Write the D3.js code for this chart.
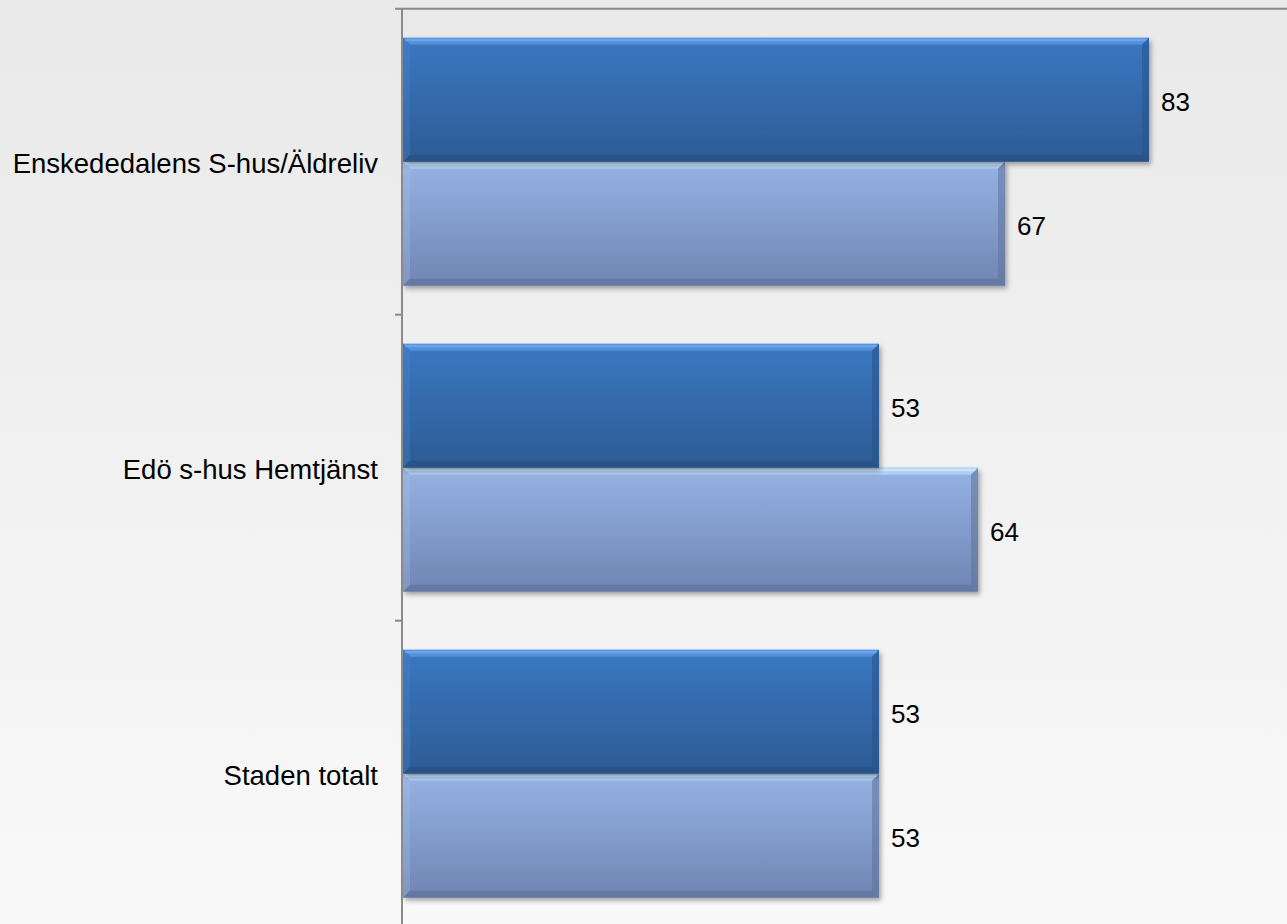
<!DOCTYPE html>
<html>
<head>
<meta charset="utf-8">
<script src="https://cdn.jsdelivr.net/npm/d3@7/dist/d3.min.js"></script>
<style>
  html, body { margin: 0; padding: 0; background: #f0f0f0; }
  svg { display: block; }
  text { font-family: "Liberation Sans", Arial, sans-serif; fill: #000; }
</style>
</head>
<body>
<svg id="chart" width="1287" height="924"></svg>
<script>
// ---- data ----
const categories = ["Enskededalens S-hus/Äldreliv", "Edö s-hus Hemtjänst", "Staden totalt"];
const seriesNames = ["Serie 1", "Serie 2"];
const series1 = [83, 53, 53];
const series2 = [67, 64, 53];

const W = 1287, H = 924;
const svg = d3.select("#chart");
const defs = svg.append("defs");

// background
const bg = defs.append("linearGradient").attr("id", "bg").attr("x1", 0).attr("y1", 0).attr("x2", 0).attr("y2", 1);
bg.append("stop").attr("offset", "0%").attr("stop-color", "#e9e9e9");
bg.append("stop").attr("offset", "100%").attr("stop-color", "#f9f9f9");
svg.append("rect").attr("width", W).attr("height", H).attr("fill", "url(#bg)");

// bar gradients
const palettes = [
  { id: "g0", top: "#3a78c1", bottom: "#2d5b94", hi: "#6eaaf2", lo: "#234a7a", left: "#4a88d0", right: "#28528a" },
  { id: "g1", top: "#95b3e4", bottom: "#7085b3", hi: "#cfeaff", lo: "#5a6c96", left: "#a4bfe9", right: "#5f7299" }
];
palettes.forEach(p => {
  const g = defs.append("linearGradient").attr("id", p.id).attr("x1", 0).attr("y1", 0).attr("x2", 0).attr("y2", 1);
  g.append("stop").attr("offset", "0%").attr("stop-color", p.top);
  g.append("stop").attr("offset", "100%").attr("stop-color", p.bottom);
});
const f = defs.append("filter").attr("id", "shadow").attr("x", "-5%").attr("y", "-10%").attr("width", "115%").attr("height", "130%");
f.append("feDropShadow").attr("dx", 2).attr("dy", 3).attr("stdDeviation", 2.5).attr("flood-color", "#000").attr("flood-opacity", 0.35);

// scales
const x0 = 402;
const x = d3.scaleLinear().domain([0, 100]).range([x0, x0 + 900]);
const y = d3.scaleBand().domain(categories).range([8.7, 926.7]).paddingInner(0.19).paddingOuter(0.095);
const ySub = d3.scaleBand().domain(seriesNames).range([0, y.bandwidth()]);

// axes lines
const axisColor = "#8a8a8a";
svg.append("line").attr("x1", 395).attr("x2", W).attr("y1", 8.7).attr("y2", 8.7)
  .attr("stroke", axisColor).attr("stroke-width", 2);

const data = [];
categories.forEach((c, i) => {
  data.push({ cat: c, s: 0, v: series1[i] });
  data.push({ cat: c, s: 1, v: series2[i] });
});

const order = data.slice().sort((a, b) => b.s - a.s);
const bars = svg.append("g");
order.forEach(d => {
  const p = palettes[d.s];
  const bx = x(0) + 1, by = y(d.cat) + ySub(seriesNames[d.s]);
  const bw = x(d.v) - x(0) - 1, bh = ySub.bandwidth();
  const g = bars.append("g");
  g.append("rect").attr("x", bx).attr("y", by).attr("width", bw).attr("height", bh)
    .attr("fill", `url(#${p.id})`).attr("filter", "url(#shadow)");
  const b = 7;
  g.append("polygon").attr("points", [[bx, by], [bx + bw, by], [bx + bw - b, by + b], [bx + b, by + b]].join(" "))
    .attr("fill", p.hi).attr("opacity", 0.5);
  g.append("rect").attr("x", bx + 2).attr("y", by + 1).attr("width", bw - 4).attr("height", 2.5)
    .attr("fill", p.hi).attr("opacity", 0.8);
  g.append("polygon").attr("points", [[bx, by], [bx + b, by + b], [bx + b, by + bh - b], [bx, by + bh]].join(" "))
    .attr("fill", p.left).attr("opacity", 0.3);
  g.append("polygon").attr("points", [[bx + bw, by], [bx + bw, by + bh], [bx + bw - b, by + bh - b], [bx + bw - b, by + b]].join(" "))
    .attr("fill", p.right).attr("opacity", 0.55);
  g.append("polygon").attr("points", [[bx, by + bh], [bx + bw, by + bh], [bx + bw - b, by + bh - b], [bx + b, by + bh - b]].join(" "))
    .attr("fill", p.lo).attr("opacity", 0.5);
});

// left axis line & ticks
svg.append("line").attr("x1", x0).attr("x2", x0).attr("y1", 8.7).attr("y2", H)
  .attr("stroke", axisColor).attr("stroke-width", 2);
const step = y.step();
categories.slice(1).forEach(c => {
  const ty = y(c) - y.paddingInner() * step / 2;
  svg.append("line").attr("x1", 395).attr("x2", x0).attr("y1", ty).attr("y2", ty)
    .attr("stroke", axisColor).attr("stroke-width", 2);
});

// value labels
svg.append("g").selectAll("text").data(data).join("text")
  .attr("x", d => x(d.v) + 12)
  .attr("y", d => y(d.cat) + ySub(seriesNames[d.s]) + ySub.bandwidth() / 2)
  .attr("dy", "0.45em")
  .attr("font-size", 26)
  .text(d => d.v);

// category labels
svg.append("g").selectAll("text").data(categories).join("text")
  .attr("x", 378)
  .attr("y", d => y(d) + y.bandwidth() / 2)
  .attr("dy", "0.4em")
  .attr("text-anchor", "end")
  .attr("font-size", 27.5)
  .text(d => d);
</script>
</body>
</html>
